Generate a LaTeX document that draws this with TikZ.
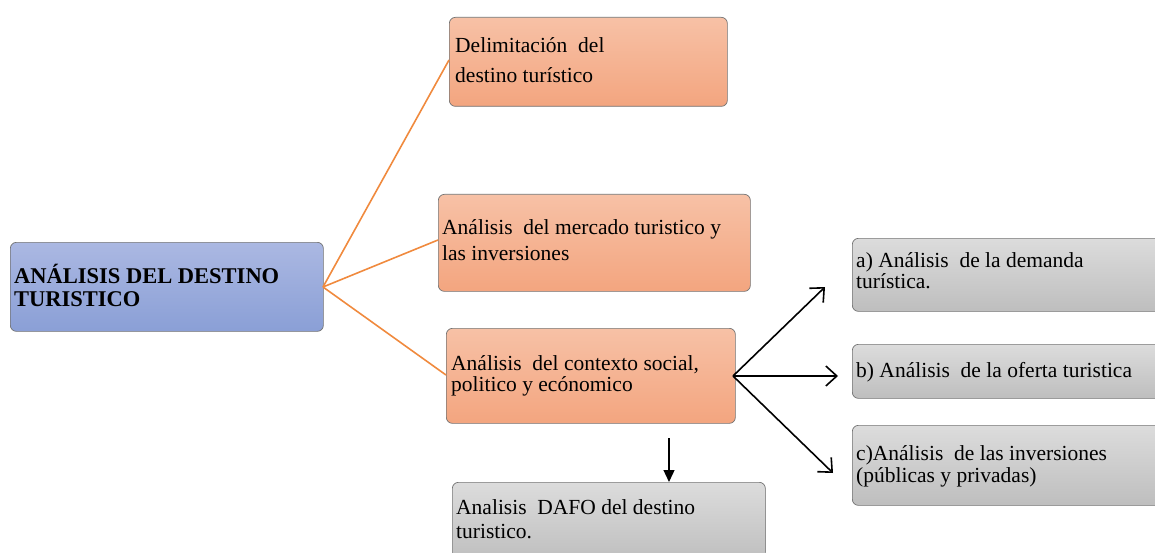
\documentclass[tikz,border=0pt]{standalone}
\usepackage{fontspec}
\setmainfont{Liberation Serif}
\usetikzlibrary{arrows.meta}
\begin{document}
\begin{tikzpicture}[x=1pt,y=-1pt,
  box/.style={draw=black!55, line width=0.7pt, rounded corners=6pt, anchor=north west, inner sep=0pt},
  bluebox/.style={box, top color=blueTop, bottom color=blueBot},
  orbox/.style={box, top color=orTop, bottom color=orBot},
  grbox/.style={box, top color=grTop, bottom color=grBot},
  txt/.style={anchor=base west, inner sep=0pt, font=\fontsize{21.5}{24}\selectfont},
  btxt/.style={anchor=base west, inner sep=0pt, font=\fontsize{22.5}{25}\selectfont\bfseries},
  oline/.style={draw=lineOr, line width=1.6pt},
  barrow/.style={draw=black, line width=1.6pt, -{Straight Barb[length=11pt,width=20pt,line width=1.6pt]}},
  darrow/.style={draw=black, line width=1.3pt, -{Triangle[length=12pt,width=11pt]}}
]
\definecolor{blueTop}{HTML}{ABB8E2}
\definecolor{blueBot}{HTML}{8A9FD6}
\definecolor{orTop}{HTML}{F7C1A6}
\definecolor{orBot}{HTML}{F3A57F}
\definecolor{grTop}{HTML}{DCDCDC}
\definecolor{grBot}{HTML}{BEBEBE}
\definecolor{lineOr}{HTML}{F08A3E}
\useasboundingbox (0,0) rectangle (1155,553);

% boxes
\node[bluebox, minimum width=313pt, minimum height=89pt] (main) at (10,242) {};
\node[orbox, minimum width=278pt, minimum height=89pt] (b1) at (449,17) {};
\node[orbox, minimum width=312pt, minimum height=97pt] (b2) at (438,194) {};
\node[orbox, minimum width=289pt, minimum height=95pt] (b3) at (446,328) {};
\node[grbox, minimum width=313pt, minimum height=80pt] (b4) at (452,482) {};
\node[grbox, minimum width=310pt, minimum height=73pt] (ga) at (852,238) {};
\node[grbox, minimum width=310pt, minimum height=54pt] (gb) at (852,344) {};
\node[grbox, minimum width=310pt, minimum height=80pt] (gc) at (852,425) {};

% texts
\node[btxt] (mt1) at (14,283) {ANÁLISIS DEL DESTINO};
\node[btxt] (mt2) at (14,306) {TURISTICO};
\node[txt] (t1a) at (455,53) {Delimitación\ \ del};
\node[txt] (t1b) at (455,83) {destino turístico};
\node[txt] (t2a) at (442,235) {Análisis\ \ del mercado turistico y};
\node[txt] (t2b) at (442,260) {las inversiones};
\node[txt] (t3a) at (451,370) {Análisis\ \ del contexto social,};
\node[txt] (t3b) at (451,391) {politico y ecónomico};
\node[txt] (t4a) at (456,514) {Analisis\ \ DAFO del destino};
\node[txt] (t4b) at (456,538) {turistico.};
\node[txt] (tga) at (856,267) {a) Análisis\ \ de la demanda};
\node[txt] (tgb) at (856,288) {turística.};
\node[txt] (tgc) at (856,377) {b) Análisis\ \ de la oferta turistica};
\node[txt] (tgd) at (856,460) {c)Análisis\ \ de las inversiones};
\node[txt] (tge) at (856,482) {(públicas y privadas)};

% connectors
\coordinate (o) at (323,287);
\draw[oline] (o) -- (b1.west |- 0,60);
\draw[oline] (o) -- (b2.west |- 0,240);
\draw[oline] (o) -- (b3.west |- 0,375);

\coordinate (s) at (733,376);
\coordinate (ea) at (825,287);
\coordinate (eb) at (838,376);
\coordinate (ec) at (833,473);
\draw[barrow] (s) -- (ea);
\draw[barrow] (s) -- (eb);
\draw[barrow] (s) -- (ec);

\coordinate (ds) at (669,438);
\draw[darrow] (ds) -- (b4.north -| ds);
\end{tikzpicture}
\end{document}
